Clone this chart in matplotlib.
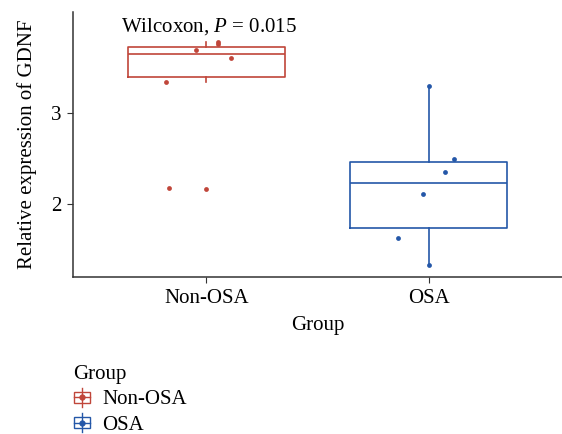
import numpy as np
import matplotlib
matplotlib.use("Agg")
import matplotlib.pyplot as plt
from matplotlib.legend_handler import HandlerBase
from matplotlib.patches import Rectangle
from matplotlib.lines import Line2D

plt.rcParams['font.family'] = 'Liberation Serif'
plt.rcParams['mathtext.fontset'] = 'custom'
plt.rcParams['mathtext.it'] = 'Liberation Serif:italic'
plt.rcParams['mathtext.rm'] = 'Liberation Serif'

# data
groups = ['Non-OSA', 'OSA']
colors = ['#C0463A', '#2457A8']

# box stats: whislo, q1, median, q3, whishi
non_osa_box = [3.344, 3.399, 3.652, 3.729, 3.78]
osa_box = [1.326, 1.74, 2.234, 2.458, 3.297]

# jittered points (x offset, value)
non_osa_x = [0.817, 0.954, 1.054, 1.050, 1.112, 0.832, 0.997]
non_osa_y = [3.341, 3.696, 3.784, 3.762, 3.608, 2.179, 2.165]
osa_x = [2.000, 2.115, 2.075, 1.976, 1.863, 2.000]
osa_y = [3.297, 2.495, 2.355, 2.110, 1.626, 1.326]

fs = 15

fig = plt.figure(figsize=(5.62, 4.34), dpi=100)
ax = fig.add_axes([0.130, 0.362, 0.870, 0.610])

stats = []
for g, b in zip(groups, [non_osa_box, osa_box]):
    stats.append(dict(label=g, whislo=b[0], q1=b[1], med=b[2], q3=b[3], whishi=b[4], fliers=[]))

for i, (s, c) in enumerate(zip(stats, colors)):
    ax.bxp([s], positions=[i + 1], widths=0.705, showcaps=False,
           boxprops=dict(color=c, linewidth=1.2),
           medianprops=dict(color=c, linewidth=1.2),
           whiskerprops=dict(color=c, linewidth=1.2),
           manage_ticks=False)

ax.scatter(non_osa_x, non_osa_y, s=12, color=colors[0], zorder=3, linewidths=0)
ax.scatter(osa_x, osa_y, s=12, color=colors[1], zorder=3, linewidths=0)

ax.text(0.616, 3.956, 'Wilcoxon, $\\mathit{P}$ = 0.015', fontsize=fs, va='center', ha='left')

ax.set_xlim(0.4, 2.6)
ax.set_ylim(1.2, 4.11)
ax.set_xticks([1, 2])
ax.set_xticklabels(groups)
ax.set_yticks([2, 3])
ax.tick_params(labelsize=fs, length=4.5, color='#333333', pad=4)
ax.spines['top'].set_visible(False)
ax.spines['right'].set_visible(False)
for sp in ['left', 'bottom']:
    ax.spines[sp].set_color('#333333')
    ax.spines[sp].set_linewidth(1.1)
ax.set_xlabel('Group', fontsize=fs, labelpad=6)
ax.set_ylabel('Relative expression of GDNF', fontsize=fs, labelpad=10)


class BoxHandler(HandlerBase):
    def create_artists(self, legend, orig_handle, xdescent, ydescent, width, height, fontsize, trans):
        c = orig_handle.get_color()
        cx = width / 2 - xdescent
        cy = height / 2 - ydescent
        r = Rectangle((cx - width * 0.45, cy - height * 0.35), width * 0.9, height * 0.7,
                      fill=False, edgecolor=c, lw=1.0, transform=trans)
        v = Line2D([cx, cx], [cy - height * 0.6, cy + height * 0.6], color=c, lw=1.0, transform=trans)
        h = Line2D([cx - width * 0.45, cx + width * 0.45], [cy, cy], color=c, lw=1.0, transform=trans)
        p = Line2D([cx], [cy], marker='o', markersize=3.5, color=c, lw=0, transform=trans)
        return [r, v, h, p]


handles = [Line2D([], [], color=c) for c in colors]
leg = fig.legend(handles, groups, title='Group', loc='upper left', bbox_to_anchor=(0.112, 0.183),
                 frameon=False, fontsize=fs, title_fontsize=fs, handler_map={Line2D: BoxHandler()},
                 handlelength=0.85, handleheight=0.8, handletextpad=0.55, labelspacing=0.25,
                 borderpad=0.0, alignment='left')

fig.savefig('out.png', dpi=100)
